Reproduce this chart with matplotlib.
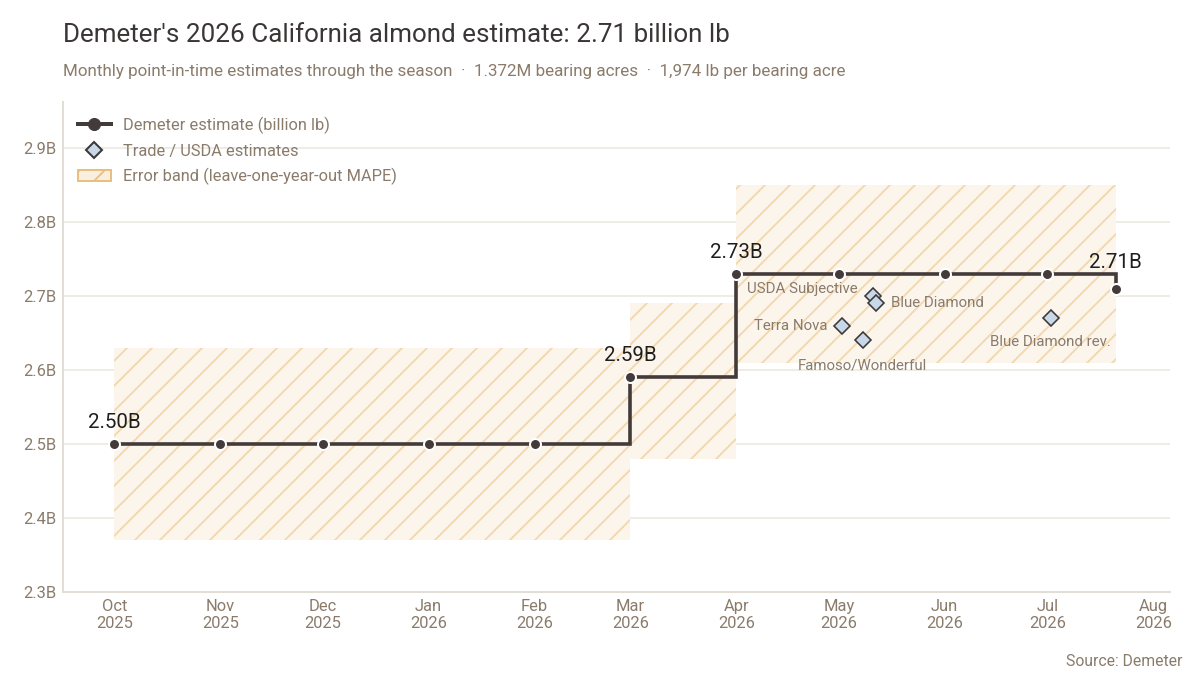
import matplotlib
matplotlib.use("Agg")
import matplotlib.pyplot as plt
import matplotlib.dates as mdates
from matplotlib.lines import Line2D
from matplotlib.patches import Patch
from matplotlib.ticker import FuncFormatter, FixedLocator
from datetime import datetime

# ---------------- data ----------------
est_dates = ["2025-10-01", "2025-11-01", "2025-12-01", "2026-01-01", "2026-02-01",
             "2026-03-01", "2026-04-01", "2026-05-01", "2026-06-01", "2026-07-01",
             "2026-07-21"]
est_values = [2.50, 2.50, 2.50, 2.50, 2.50, 2.59, 2.73, 2.73, 2.73, 2.73, 2.71]
band_lower = [2.37, 2.37, 2.37, 2.37, 2.37, 2.48, 2.61, 2.61, 2.61, 2.61, 2.61]
band_upper = [2.63, 2.63, 2.63, 2.63, 2.63, 2.69, 2.85, 2.85, 2.85, 2.85, 2.85]
labeled_idx = [0, 5, 6, 10]

trade_names = ["USDA Subjective", "Blue Diamond", "Terra Nova", "Famoso/Wonderful", "Blue Diamond rev."]
trade_dates = ["2026-05-11", "2026-05-12", "2026-05-02", "2026-05-08", "2026-07-02"]
trade_values = [2.70, 2.69, 2.66, 2.64, 2.67]

y_ticks = [2.3, 2.4, 2.5, 2.6, 2.7, 2.8, 2.9]

title = "Demeter's 2026 California almond estimate: 2.71 billion lb"
subtitle = "Monthly point-in-time estimates through the season  \u00b7  1.372M bearing acres  \u00b7  1,974 lb per bearing acre"
source = "Source: Demeter"

# ---------------- style ----------------
DPI = 75
def px(v):
    return v * 72.0 / DPI

plt.rcParams['font.family'] = ['Roboto', 'DejaVu Sans']
plt.rcParams['hatch.linewidth'] = px(1.8)

TITLE_C = "#3b3636"
MUTED = "#8a7b6b"
LINE_C = "#433b3a"
GRID_C = "#ebe6de"
SPINE_C = "#e2ddd5"
BAND_FACE = "#fcf5ec"
HATCH_C = "#f2d8ac"

ed = [datetime.fromisoformat(d) for d in est_dates]
td = [datetime.fromisoformat(d) for d in trade_dates]

fig = plt.figure(figsize=(1200 / DPI, 675 / DPI), dpi=DPI)
ax = fig.add_axes([63 / 1200, (675 - 592) / 675, (1170 - 63) / 1200, (592 - 102) / 675])

# error band
ax.fill_between(ed, band_lower, band_upper, step='post', facecolor=BAND_FACE,
                edgecolor=HATCH_C, linewidth=0, hatch='/', zorder=1)

# Demeter estimate
ax.plot(ed, est_values, drawstyle='steps-post', color=LINE_C, lw=px(3.6), zorder=3,
        solid_joinstyle='miter')
ax.plot(ed, est_values, linestyle='none', marker='o', markersize=px(11),
        markerfacecolor=LINE_C, markeredgecolor='white', markeredgewidth=px(2), zorder=4)

for i in labeled_idx:
    off = 21 if i == len(est_values) - 1 else 16
    ax.annotate(f"{est_values[i]:.2f}B", (ed[i], est_values[i]), xytext=(0, px(off)),
                textcoords='offset points', ha='center', va='baseline',
                fontsize=px(20.5), color="#1e1e1e", zorder=5)

# trade estimates
ax.plot(td, trade_values, linestyle='none', marker='D', markersize=px(11),
        markerfacecolor="#c8d8e8", markeredgecolor="#3a3838", markeredgewidth=px(1.6), zorder=5)

label_pos = {
    "USDA Subjective": (-15, 7, 'right', 'center'),
    "Blue Diamond": (15, 0, 'left', 'center'),
    "Terra Nova": (-15, 0, 'right', 'center'),
    "Famoso/Wonderful": (0, -25, 'center', 'center'),
    "Blue Diamond rev.": (0, -24, 'center', 'center'),
}
for name, d, v in zip(trade_names, td, trade_values):
    dx, dy, ha, va = label_pos[name]
    ax.annotate(name, (d, v), xytext=(px(dx), px(dy)), textcoords='offset points',
                ha=ha, va=va, fontsize=px(15), color=MUTED, zorder=6)

# axes
ax.set_xlim(datetime(2025, 9, 16, 0), datetime(2026, 8, 5, 22))
ax.set_ylim(2.3, 2.962)
ax.yaxis.set_major_locator(FixedLocator(y_ticks))
ax.yaxis.set_major_formatter(FuncFormatter(lambda v, p: f"{v:.1f}B"))
ax.xaxis.set_major_locator(mdates.MonthLocator())
ax.xaxis.set_major_formatter(mdates.DateFormatter("%b\n%Y"))
ax.tick_params(axis='both', length=0, labelsize=px(16.5), labelcolor=MUTED)
ax.tick_params(axis='x', pad=px(7))
ax.tick_params(axis='y', pad=px(7))
ax.grid(axis='y', color=GRID_C, lw=px(1.5), zorder=0)
ax.set_axisbelow(True)
for s in ['top', 'right']:
    ax.spines[s].set_visible(False)
for s in ['left', 'bottom']:
    ax.spines[s].set_color(SPINE_C)
    ax.spines[s].set_linewidth(px(2))

handles = [
    Line2D([], [], color=LINE_C, lw=px(4), marker='o', markersize=px(12),
           markerfacecolor=LINE_C, markeredgecolor=LINE_C),
    Line2D([], [], linestyle='none', marker='D', markersize=px(12),
           markerfacecolor="#c8d8e8", markeredgecolor="#3a3838", markeredgewidth=px(2)),
    Patch(facecolor="#faeee0", edgecolor="#e8c07c", hatch='/', linewidth=px(2)),
]
labels = ["Demeter estimate (billion lb)", "Trade / USDA estimates",
          "Error band (leave-one-year-out MAPE)"]
leg = ax.legend(handles, labels, loc='upper left', bbox_to_anchor=(0.0, 1.0),
                frameon=False, fontsize=px(16.4), labelcolor=MUTED, handlelength=2.0,
                handletextpad=0.75, labelspacing=0.58, borderaxespad=0.5)

fig.text(63 / 1200, 1 - 42 / 675, title, fontsize=px(26), color=TITLE_C, va='baseline', ha='left')
fig.text(63 / 1200, 1 - 76 / 675, subtitle, fontsize=px(17), color=MUTED, va='baseline', ha='left')
fig.text(1182 / 1200, 1 - 666 / 675, source, fontsize=px(15.7), color=MUTED, va='baseline', ha='right')

fig.savefig("out.png", dpi=DPI)
